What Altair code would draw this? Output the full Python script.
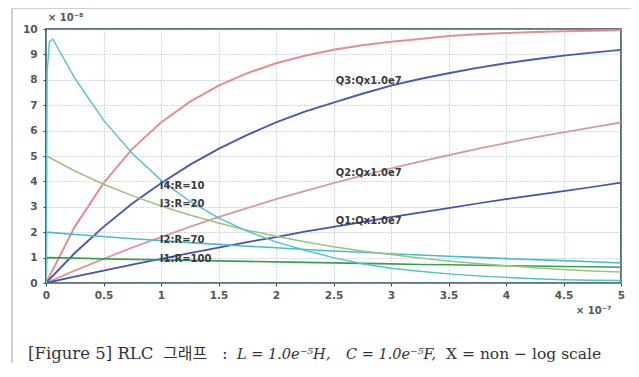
import altair as alt
import pandas as pd

# time axis (x 10^-7 s)
t = [0, 0.25, 0.5, 0.75, 1, 1.25, 1.5, 1.75, 2, 2.25, 2.5, 2.75, 3, 3.25, 3.5, 3.75, 4, 4.25, 4.5, 4.75, 5]

q3_red = [0, 2.21, 3.93, 5.28, 6.32, 7.13, 7.77, 8.26, 8.65, 8.95, 9.18, 9.36, 9.50, 9.61, 9.72, 9.79, 9.84, 9.88, 9.91, 9.93, 9.95]
q3_blue = [0, 1.18, 2.21, 3.13, 3.93, 4.65, 5.28, 5.83, 6.32, 6.75, 7.10, 7.45, 7.77, 8.03, 8.26, 8.47, 8.65, 8.81, 8.95, 9.07, 9.18]
q2_red = [0, 0.49, 0.95, 1.39, 1.81, 2.21, 2.59, 2.95, 3.30, 3.62, 3.93, 4.23, 4.51, 4.78, 5.03, 5.28, 5.51, 5.73, 5.93, 6.13, 6.32]
q1_blue = [0, 0.25, 0.49, 0.72, 0.95, 1.18, 1.39, 1.61, 1.81, 2.02, 2.21, 2.40, 2.59, 2.77, 2.95, 3.13, 3.30, 3.46, 3.62, 3.78, 3.95]

t_i4 = [0, 0.01, 0.03, 0.06, 0.25, 0.5, 0.75, 1, 1.25, 1.5, 1.75, 2, 2.25, 2.5, 2.75, 3, 3.25, 3.5, 3.75, 4, 4.25, 4.5, 4.75, 5]
i4 = [0, 8.3, 9.5, 9.6, 8.07, 6.41, 5.10, 4.05, 3.22, 2.56, 2.04, 1.62, 1.29, 1.0, 0.76, 0.58, 0.46, 0.36, 0.28, 0.22, 0.17, 0.13, 0.11, 0.10]

t_i = [0, 0.005, 0.25, 0.5, 0.75, 1, 1.25, 1.5, 1.75, 2, 2.25, 2.5, 2.75, 3, 3.25, 3.5, 3.75, 4, 4.25, 4.5, 4.75, 5]
i3 = [0, 5.0, 4.41, 3.89, 3.44, 3.03, 2.68, 2.36, 2.08, 1.84, 1.62, 1.43, 1.26, 1.12, 0.98, 0.87, 0.77, 0.68, 0.60, 0.53, 0.47, 0.43]
i2 = [0, 2.0, 1.91, 1.83, 1.74, 1.67, 1.59, 1.52, 1.45, 1.39, 1.32, 1.26, 1.21, 1.15, 1.10, 1.05, 1.01, 0.96, 0.92, 0.88, 0.84, 0.79]
i1 = [0, 1.0, 0.98, 0.95, 0.93, 0.91, 0.89, 0.87, 0.85, 0.83, 0.81, 0.79, 0.77, 0.75, 0.73, 0.72, 0.70, 0.68, 0.67, 0.65, 0.64, 0.62]

series_names = ["Q3r", "Q3b", "Q2", "Q1", "I1", "I2", "I3", "I4"]
series_colors = ["#e28e90", "#4a58b8", "#d99a9a", "#4452b4", "#3c9e50", "#48bcc8", "#98c47c", "#4cc4cc"]
series_widths = [2.0, 1.4, 1.4, 1.4, 1.6, 1.4, 1.4, 1.6]

label_text = ["I4:R=10", "I3:R=20", "I2:R=70", "I1:R=100", "Q3:Qx1.0e7", "Q2:Qx1.0e7", "Q1:Qx1.0e7"]
label_x = [0.99, 0.99, 0.99, 0.99, 2.52, 2.52, 2.52]
label_y = [3.8, 3.1, 1.68, 0.95, 7.95, 4.33, 2.45]

x_ticks = [0, 0.5, 1, 1.5, 2, 2.5, 3, 3.5, 4, 4.5, 5]
y_ticks = [0, 1, 2, 3, 4, 5, 6, 7, 8, 9, 10]

caption_parts = ["[Figure 5] RLC", "그래프", ":", "L = 1.0e⁻⁵H,", "C = 1.0e⁻⁵F,", "X = non − log scale"]

rows = []
for name, xs, ys in [("Q3r", t, q3_red), ("Q3b", t, q3_blue), ("Q2", t, q2_red), ("Q1", t, q1_blue),
                     ("I1", t_i, i1), ("I2", t_i, i2), ("I3", t_i, i3), ("I4", t_i4, i4)]:
    for k, (a, b) in enumerate(zip(xs, ys)):
        rows.append({"series": name, "t": a, "v": b, "k": k})
df = pd.DataFrame(rows)
labels = pd.DataFrame({"text": label_text, "t": label_x, "v": label_y})

W, H = 575, 254

xscale = alt.Scale(domain=[0, 5], nice=False, zero=False)
yscale = alt.Scale(domain=[0, 10], nice=False)

axis_common = dict(
    grid=True, gridColor="#9fb4cc", gridDash=[1, 2], gridWidth=1,
    domain=False, ticks=True, tickColor="#2a4a5a", tickSize=3,
    labelColor="#555555", labelFont="DejaVu Sans", labelFontSize=10.5, labelFontWeight="bold",
    labelOverlap=False, labelFlush=False, format=".1~f",
    title=None,
)
x_axis = alt.Axis(values=x_ticks, labelPadding=4, **axis_common)
y_axis = alt.Axis(values=y_ticks, labelPadding=6, **axis_common)

lines = alt.Chart(df).mark_line(clip=True).encode(
    x=alt.X("t:Q", scale=xscale, axis=x_axis),
    y=alt.Y("v:Q", scale=yscale, axis=y_axis),
    color=alt.Color("series:N", scale=alt.Scale(domain=series_names, range=series_colors), legend=None),
    strokeWidth=alt.StrokeWidth("series:N", scale=alt.Scale(domain=series_names, range=series_widths), legend=None),
    order="k:Q",
)

text = alt.Chart(labels).mark_text(
    align="left", baseline="middle", font="DejaVu Sans", fontSize=10, fontWeight="bold", color="#3a3a3a"
).encode(x=alt.X("t:Q", scale=xscale, axis=x_axis), y=alt.Y("v:Q", scale=yscale, axis=y_axis), text="text:N")

one = pd.DataFrame({"a": [0]})
frame = alt.Chart(one).mark_rect(filled=False, stroke="#cfcfcf", strokeWidth=2).encode(
    x=alt.value(-34), x2=alt.value(590), y=alt.value(-21), y2=alt.value(343)
)
exp_y = alt.Chart(one).mark_text(align="left", baseline="middle", font="DejaVu Sans", fontSize=10,
                                   fontWeight="bold", color="#555555").encode(
    x=alt.value(2), y=alt.value(-11), text=alt.value("× 10⁻⁸")
)
exp_x = alt.Chart(one).mark_text(align="left", baseline="middle", font="DejaVu Sans", fontSize=10,
                                   fontWeight="bold", color="#555555").encode(
    x=alt.value(530), y=alt.value(H + 28), text=alt.value("× 10⁻⁷")
)

cap_y = H + 76
def cap(txt, x, font="DejaVu Serif", size=16.5, style="normal"):
    return alt.Chart(one).mark_text(align="left", baseline="alphabetic", font=font, fontSize=size,
                                    fontStyle=style, color="#333333").encode(
        x=alt.value(x), y=alt.value(cap_y), text=alt.value(txt))

captions = [
    cap(caption_parts[0], -18),
    cap(caption_parts[1], 117, font="Noto Sans CJK KR", size=16),
    cap(caption_parts[2], 176),
    cap(caption_parts[3], 191, size=14.5, style="italic"),
    cap(caption_parts[4], 300, size=14.5, style="italic"),
    cap(caption_parts[5], 400, size=15.5),
]

chart = alt.layer(frame, lines, text, exp_y, exp_x, *captions).properties(
    width=W, height=H,
    autosize=alt.AutoSizeParams(type="none"),
    padding={"left": 38, "top": 21, "right": 10, "bottom": 80},
    background="white",
).configure_view(stroke="#2a4a5a", strokeWidth=1.6).configure_axis(labelOverlap=False)

chart.save("out.html", embed_options={"renderer": "svg", "actions": False})
